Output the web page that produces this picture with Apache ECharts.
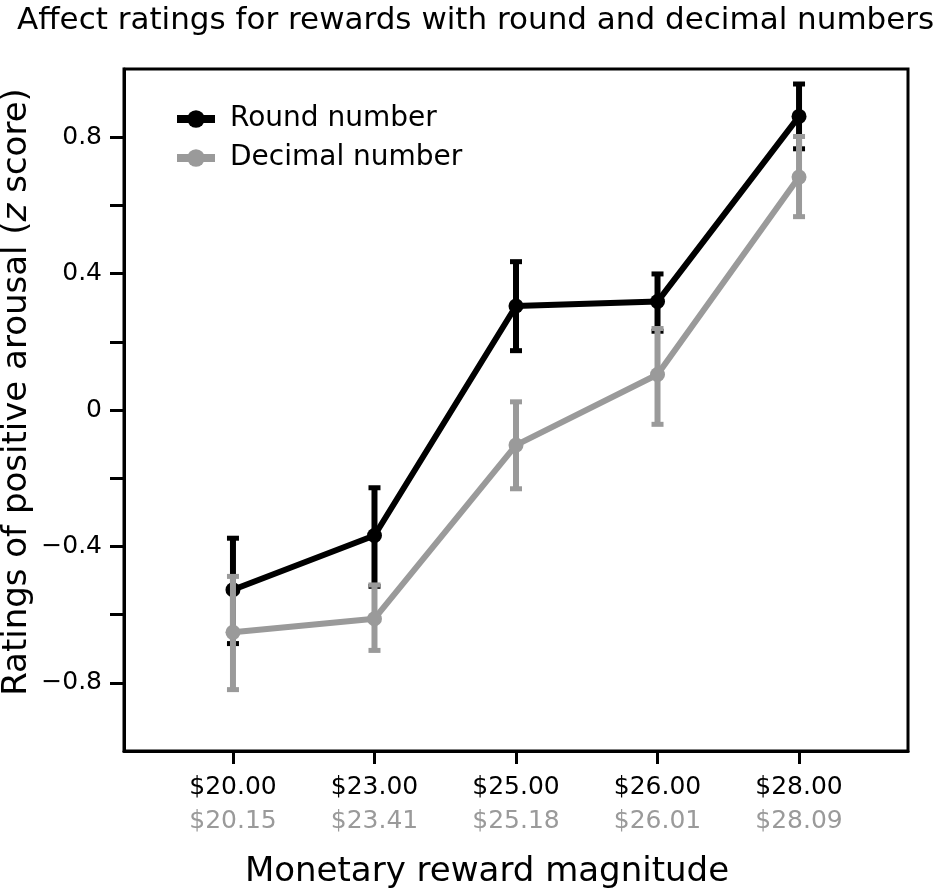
<!DOCTYPE html>
<html>
<head>
<meta charset="utf-8">
<script src="https://cdn.jsdelivr.net/npm/echarts@6/dist/echarts.min.js"></script>
<style>html,body{margin:0;padding:0;background:#fff}#c{width:952px;height:894px}</style>
</head>
<body>
<div id="c"></div>
<script>
const roundLabels = ['$20.00', '$23.00', '$25.00', '$26.00', '$28.00'];
const decimalLabels = ['$20.15', '$23.41', '$25.18', '$26.01', '$28.09'];
const xPositions = [1, 2, 3, 4, 5];
const roundMean = [-0.527, -0.368, 0.305, 0.318, 0.861];
const roundLow = [-0.685, -0.517, 0.174, 0.231, 0.766];
const roundHigh = [-0.376, -0.228, 0.435, 0.399, 0.956];
const decimalMean = [-0.652, -0.612, -0.103, 0.104, 0.683];
const decimalLow = [-0.820, -0.705, -0.231, -0.042, 0.567];
const decimalHigh = [-0.488, -0.513, 0.024, 0.239, 0.802];
const yTickValues = [-0.8, -0.6, -0.4, -0.2, 0, 0.2, 0.4, 0.6, 0.8];
const yLabelValues = [-0.8, -0.4, 0, 0.4, 0.8];

const FONT = 'DejaVu Sans';
const BLACK = '#000000';
const GRAY = '#9a9a9a';

function errData(low, high) {
  return xPositions.map((x, i) => [x, low[i], high[i]]);
}
function errRender(color) {
  return function (params, api) {
    const x = api.value(0);
    const lo = api.coord([x, api.value(1)]);
    const hi = api.coord([x, api.value(2)]);
    const hw = 6;
    const st = { stroke: color, lineWidth: 6, lineCap: 'butt' };
    const cs = { stroke: color, lineWidth: 5, lineCap: 'butt' };
    return {
      type: 'group',
      children: [
        { type: 'line', shape: { x1: lo[0], y1: lo[1], x2: hi[0], y2: hi[1] }, style: st },
        { type: 'line', shape: { x1: lo[0] - hw, y1: lo[1], x2: lo[0] + hw, y2: lo[1] }, style: cs },
        { type: 'line', shape: { x1: hi[0] - hw, y1: hi[1], x2: hi[0] + hw, y2: hi[1] }, style: cs }
      ]
    };
  };
}

const chart = echarts.init(document.getElementById('c'), null, { renderer: 'canvas' });
chart.setOption({
  animation: false,
  backgroundColor: '#fff',
  textStyle: { fontFamily: FONT },
  title: {
    text: 'Affect ratings for rewards with round and decimal numbers',
    left: 12, top: 0,
    textStyle: { fontFamily: FONT, fontSize: 31, fontWeight: 'normal', color: BLACK }
  },
  legend: {
    left: 168, top: 99, orient: 'vertical',
    itemWidth: 38, itemHeight: 22, itemGap: 9,
    data: ['Round number', 'Decimal number'],
    lineStyle: { width: 8 },
    textStyle: { fontFamily: FONT, fontSize: 28, color: BLACK, lineHeight: 30, padding: [0, 0, 0, 10] }
  },
  grid: {
    left: 124, right: 44, top: 69, bottom: 143,
    outerBoundsMode: 'none', containLabel: false,
    show: true, borderColor: BLACK, borderWidth: 3, backgroundColor: 'transparent'
  },
  xAxis: {
    type: 'value', min: 0.23, max: 5.77,
    name: 'Monetary reward magnitude', nameLocation: 'middle', nameGap: 104, nameMoveOverlap: false,
    nameTextStyle: { fontFamily: FONT, fontSize: 34, color: BLACK, padding: [0, 58, 0, 0] },
    axisLine: { show: true, onZero: false, lineStyle: { color: BLACK, width: 3 } },
    axisTick: { show: true, customValues: xPositions, length: 13, lineStyle: { color: BLACK, width: 3 } },
    splitLine: { show: false },
    axisLabel: {
      customValues: xPositions, margin: 19,
      formatter: function (v) {
        const i = Math.round(v) - 1;
        return '{a|' + roundLabels[i] + '}\n{b|' + decimalLabels[i] + '}';
      },
      rich: {
        a: { fontFamily: FONT, fontSize: 25, color: BLACK, lineHeight: 34 },
        b: { fontFamily: FONT, fontSize: 25, color: GRAY, lineHeight: 34 }
      }
    }
  },
  yAxis: {
    type: 'value', min: -1, max: 1,
    name: 'Ratings of positive arousal ({i|z} score)', nameLocation: 'middle', nameGap: 90, nameMoveOverlap: false,
    nameTextStyle: {
      fontFamily: FONT, fontSize: 34, color: BLACK, padding: [0, 0, 0, 36],
      rich: { i: { fontFamily: FONT, fontSize: 34, fontStyle: 'italic', color: BLACK } }
    },
    axisLine: { show: true, onZero: false, lineStyle: { color: BLACK, width: 3 } },
    axisTick: { show: true, customValues: yTickValues, length: 14, lineStyle: { color: BLACK, width: 3 } },
    splitLine: { show: false },
    axisLabel: {
      customValues: yLabelValues, margin: 22,
      fontFamily: FONT, fontSize: 25, color: BLACK,
      formatter: function (v) {
        if (Math.abs(v) < 1e-9) return '0';
        return (v < 0 ? '\u2212' : '') + Math.abs(v).toFixed(1);
      }
    }
  },
  series: [
    {
      type: 'custom', name: 'Round number error', renderItem: errRender(BLACK),
      data: errData(roundLow, roundHigh), z: 2, encode: { x: 0, y: [1, 2] }, silent: true
    },
    {
      type: 'line', name: 'Round number',
      data: xPositions.map((x, i) => [x, roundMean[i]]),
      symbol: 'circle', symbolSize: 15,
      lineStyle: { color: BLACK, width: 6 }, itemStyle: { color: BLACK }, z: 3
    },
    {
      type: 'custom', name: 'Decimal number error', renderItem: errRender(GRAY),
      data: errData(decimalLow, decimalHigh), z: 4, encode: { x: 0, y: [1, 2] }, silent: true
    },
    {
      type: 'line', name: 'Decimal number',
      data: xPositions.map((x, i) => [x, decimalMean[i]]),
      symbol: 'circle', symbolSize: 15,
      lineStyle: { color: GRAY, width: 6 }, itemStyle: { color: GRAY }, z: 5
    }
  ]
});
</script>
</body>
</html>
